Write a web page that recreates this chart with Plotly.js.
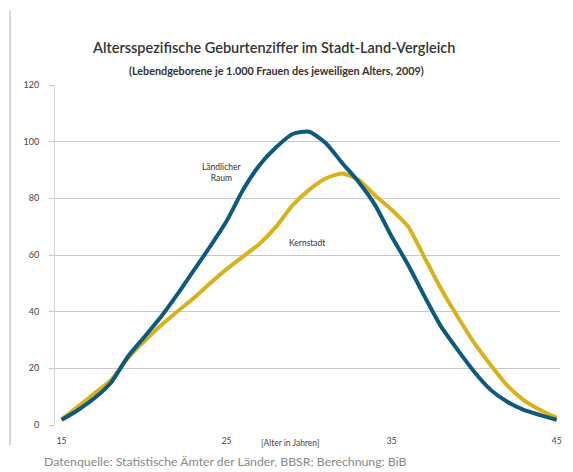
<!DOCTYPE html>
<html>
<head>
<meta charset="utf-8">
<script src="https://cdn.plot.ly/plotly-3.0.1.min.js"></script>
<style>html,body{margin:0;padding:0;background:#fff;}#chart{width:573px;height:472px;}</style>
</head>
<body>
<div id="chart"></div>
<script>
const ages = [15,16,17,18,19,20,21,22,23,24,25,26,27,28,29,30,31,32,33,34,35,36,37,38,39,40,41,42,43,44,45];
const laendlicherRaum = [1.8,5.3,9.5,15,24,31,38,46,54.5,63,72,83,91.8,98,102.7,103.5,99.5,92.5,85.8,77.6,66.5,56.5,45.3,34.7,26.5,18.8,12.4,8.2,5.3,3.5,1.8];
const kernstadt = [2,6.5,11.2,15.9,23.5,29.5,35,40,44.7,50,55,59.5,64,70,77.6,83,87,88.8,86.5,81,76,70,59,48,38.2,29,21.2,14,8.8,5.3,2.5];
const yTicks = [0,20,40,60,80,100,120];
const xTicks = [15,25,35,45];
const seriesNames = ["Ländlicher Raum","Kernstadt"];

const font = "Lato, 'Open Sans', sans-serif";

const traces = [
  {x: ages, y: kernstadt, type: 'scatter', mode: 'lines', name: seriesNames[1],
   line: {color: '#d8b21e', width: 4, shape: 'spline', smoothing: 0.6}},
  {x: ages, y: laendlicherRaum, type: 'scatter', mode: 'lines', name: seriesNames[0],
   line: {color: '#0e5a7c', width: 4, shape: 'spline', smoothing: 0.6}}
];

const layout = {
  width: 573, height: 472,
  margin: {l: 55, r: 13, t: 85, b: 47},
  paper_bgcolor: '#fff', plot_bgcolor: '#fff',
  showlegend: false,
  font: {family: font, color: '#444'},
  xaxis: {
    range: [14.6, 45.2], tickvals: xTicks, ticks: '', showgrid: false,
    zeroline: false, showline: false,
    tickfont: {size: 8.5, color: '#444'}, ticklabelstandoff: 9
  },
  yaxis: {
    range: [0, 120], tickvals: yTicks, ticks: 'outside', ticklen: 5, tickcolor: '#c8c8c8',
    showgrid: true, gridcolor: '#c8c8c8', gridwidth: 1, zeroline: false,
    showline: true, linecolor: '#d8d8d8', linewidth: 1,
    tickfont: {size: 9, color: '#444'}, ticklabelstandoff: 8
  },
  annotations: [
    {xref: 'paper', yref: 'paper', x: 0.432, y: 1.11, xanchor: 'center', yanchor: 'middle',
     text: 'Altersspezifische Geburtenziffer im Stadt-Land-Vergleich', showarrow: false,
     font: {size: 14.5, color: '#333', family: font, weight: 600}},
    {xref: 'paper', yref: 'paper', x: 0.438, y: 1.043, xanchor: 'center', yanchor: 'middle',
     text: '<b>(Lebendgeborene je 1.000 Frauen des jeweiligen Alters, 2009)</b>', showarrow: false,
     font: {size: 10.8, color: '#333', family: font}},
    {xref: 'x', yref: 'y', x: 24.7, y: 89, xanchor: 'center', yanchor: 'middle',
     text: 'Ländlicher<br>Raum', showarrow: false, font: {size: 8.5, color: '#333', family: font}},
    {xref: 'x', yref: 'y', x: 29.85, y: 64.2, xanchor: 'center', yanchor: 'middle',
     text: 'Kernstadt', showarrow: false, font: {size: 8.5, color: '#333', family: font}},
    {xref: 'paper', yref: 'paper', x: 0.465, y: -0.053, xanchor: 'center', yanchor: 'middle',
     text: '[Alter in Jahren]', showarrow: false, font: {size: 8.5, color: '#444', family: font}},
    {xref: 'paper', yref: 'paper', x: -0.025, y: -0.106, xanchor: 'left', yanchor: 'middle',
     text: 'Datenquelle: Statistische Ämter der Länder, BBSR; Berechnung: BiB', showarrow: false,
     font: {size: 12.3, color: '#888', family: font}}
  ],
  shapes: [
    {type: 'line', xref: 'paper', yref: 'paper', x0: -0.089, x1: -0.089, y0: -0.059, y1: 1.22,
     line: {color: '#c8c8c8', width: 1.5}}
  ]
};

Plotly.newPlot('chart', traces, layout, {displayModeBar: false, staticPlot: true});
</script>
</body>
</html>
